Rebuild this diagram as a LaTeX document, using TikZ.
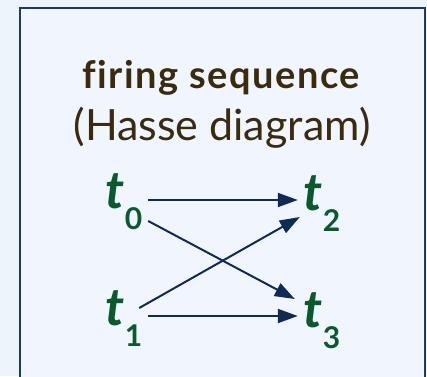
\documentclass[tikz,border=0pt]{standalone}
\usepackage{fontspec}
\setmainfont{Lato}[Ligatures=NoCommon]
\usetikzlibrary{arrows.meta}
\definecolor{bgout}{HTML}{EEF4FC}
\definecolor{bgin}{HTML}{F0F5FE}
\definecolor{frame}{HTML}{1B3A6B}
\definecolor{titlec}{HTML}{3A2A0E}
\definecolor{tgreen}{HTML}{0B5A2E}
\definecolor{arrowc}{HTML}{0E2A55}
\newcommand{\tsub}[1]{\kern0pt\raisebox{-21pt}{\upshape\fontsize{30}{30}\selectfont #1}}
\begin{document}
\begin{tikzpicture}[x=1pt,y=-1pt,
  tnode/.style={text=tgreen, inner sep=6pt, outer sep=0pt, font=\fontsize{52}{52}\selectfont\bfseries\itshape},
  hasse/.style={draw=arrowc, line width=2pt, -{Triangle[length=20pt,width=14pt]}},
  titletext/.style={text=titlec, inner sep=0pt}]
\useasboundingbox (0,0) rectangle (427,376);
\fill[bgout] (0,0) rectangle (427,376);
\begin{scope}
\clip (0,0) rectangle (427,376);
\draw[fill=bgin, draw=frame, line width=2pt] (20,8) rectangle (425,420);
\end{scope}
\node[titletext, anchor=base, font=\fontsize{38}{40}\selectfont\bfseries\addfontfeature{LetterSpace=4}] (title) at (221,88) {firing sequence};
\node[titletext, anchor=base, font=\fontsize{43}{44}\selectfont] (sub) at (222,140) {(Hasse diagram)};
\node[tnode] (t0) at (124,202) {t\tsub{0}};
\node[tnode] (t1) at (124,319) {t\tsub{1}};
\node[tnode] (t2) at (322,204) {t\tsub{2}};
\node[tnode] (t3) at (322,321) {t\tsub{3}};
\draw[hasse] (t0.east |- 0,200) -- (t2.west |- 0,200);
\draw[hasse] (t1.east |- 0,316) -- (t3.west |- 0,316);
\draw[hasse] (t0.east |- 0,221) -- ([xshift=-3pt]t3.west |- 0,299);
\draw[hasse] ([xshift=-9pt]t1.east |- 0,308) -- ([xshift=2pt]t2.west |- 0,217);
\end{tikzpicture}
\end{document}
